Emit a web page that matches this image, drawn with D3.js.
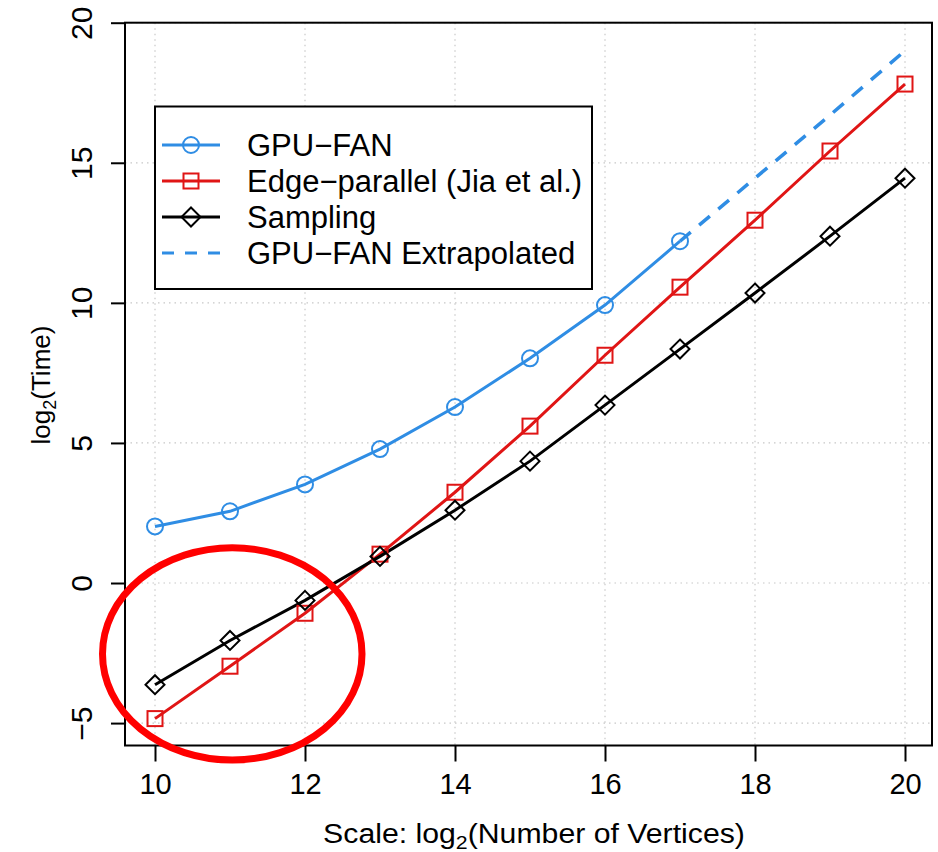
<!DOCTYPE html>
<html>
<head>
<meta charset="utf-8">
<script src="https://cdn.jsdelivr.net/npm/d3@7"></script>
<style>
  html, body { margin: 0; padding: 0; background: #fff; }
  svg { display: block; font-family: "Liberation Sans", Arial, Helvetica, sans-serif; }
</style>
</head>
<body>
<svg id="chart" width="938" height="852"></svg>
<script>
// ---- data ----
const scaleX = [10, 11, 12, 13, 14, 15, 16, 17, 18, 19, 20];
const gpuFanX = [10, 11, 12, 13, 14, 15, 16, 17];
const gpuFan = [2.02, 2.56, 3.52, 4.78, 6.28, 8.02, 9.92, 12.2];
const extrapX = [17, 18, 19, 20];
const gpuFanExtrap = [12.2, 14.45, 16.7, 19.0];
const edgeParallel = [-4.84, -2.97, -1.08, 1.03, 3.24, 5.6, 8.13, 10.56, 12.95, 15.42, 17.81];
const sampling = [-3.63, -2.05, -0.62, 0.95, 2.6, 4.35, 6.35, 8.35, 10.35, 12.38, 14.45];
const xTicks = [10, 12, 14, 16, 18, 20];
const yTicks = [-5, 0, 5, 10, 15, 20];
const legendLabels = ["GPU\u2212FAN", "Edge\u2212parallel (Jia et al.)", "Sampling", "GPU\u2212FAN Extrapolated"];
// highlighted region (ellipse) in data units: centre x, centre y, radius x, radius y
const highlight = [11.03, -2.53, 1.73, 3.79];

const colBlue = "#2f8de4", colRed = "#e01515", colBlack = "#000";

const svg = d3.select("#chart");
const L = 125, R = 935, T = 22.7, B = 745.5;
const x = d3.scaleLinear().domain([9.6, 20.4]).range([L, R]);
const y = d3.scaleLinear().domain([-5.8, 20]).range([B, T]);

// grid
const grid = svg.append("g").attr("stroke", "#c8c8c8").attr("stroke-width", 1.2).attr("stroke-dasharray", "1.5,4");
grid.selectAll("line.gx").data(xTicks).join("line")
  .attr("x1", d => x(d)).attr("x2", d => x(d)).attr("y1", T).attr("y2", B);
grid.selectAll("line.gy").data(yTicks).join("line")
  .attr("y1", d => y(d)).attr("y2", d => y(d)).attr("x1", L).attr("x2", R - 3);

// box
svg.append("rect").attr("x", L).attr("y", T).attr("width", 932 - L).attr("height", B - T)
  .attr("fill", "none").attr("stroke", "#000").attr("stroke-width", 2);

// x axis
const xAxis = d3.axisBottom(x).tickValues(xTicks).tickSize(16).tickPadding(12).tickFormat(d3.format("d"));
const gx = svg.append("g").attr("transform", `translate(0,${B})`).call(xAxis);
gx.select(".domain").remove();
gx.selectAll(".tick line").attr("stroke", "#000").attr("stroke-width", 2);
gx.selectAll(".tick text").attr("font-size", 29).attr("fill", "#000").attr("font-family", "Liberation Sans, Arial, sans-serif");

// y axis (rotated labels like R)
const yAxis = d3.axisLeft(y).tickValues(yTicks).tickSize(14).tickFormat(d => d < 0 ? "\u2212" + Math.abs(d) : d);
const gy = svg.append("g").attr("transform", `translate(${L},0)`).call(yAxis);
gy.select(".domain").remove();
gy.selectAll(".tick line").attr("stroke", "#000").attr("stroke-width", 2);
gy.selectAll(".tick text")
  .attr("font-size", 30).attr("fill", "#000").attr("font-family", "Liberation Sans, Arial, sans-serif")
  .attr("x", null).attr("dy", null)
  .attr("text-anchor", "middle")
  .attr("transform", "translate(-33,0) rotate(-90)");

// axis titles
const xt = svg.append("text").attr("transform", "translate(534,843) scale(1.12,1)")
  .attr("text-anchor", "middle").attr("font-size", 27);
xt.append("tspan").text("Scale: log");
xt.append("tspan").text("2").attr("font-size", 19).attr("dy", 6);
xt.append("tspan").text("(Number of Vertices)").attr("dy", -6);

const yt = svg.append("text").attr("transform", `translate(50,385) rotate(-90)`)
  .attr("text-anchor", "middle").attr("font-size", 26);
yt.append("tspan").text("log");
yt.append("tspan").text("2").attr("font-size", 18).attr("dy", 6);
yt.append("tspan").text("(Time)").attr("dy", -6);

// line generator
const line = d3.line().x(d => x(d[0])).y(d => y(d[1]));

const plot = svg.append("g");
// extrapolated dashed
plot.append("path").datum(extrapX.map((v, i) => [v, gpuFanExtrap[i]]))
  .attr("d", line).attr("fill", "none").attr("stroke", colBlue).attr("stroke-width", 3.5).attr("stroke-dasharray", "14,11");

const series = [
  { xs: gpuFanX, ys: gpuFan, color: colBlue, shape: "circle" },
  { xs: scaleX, ys: edgeParallel, color: colRed, shape: "square" },
  { xs: scaleX, ys: sampling, color: colBlack, shape: "diamond" }
];

function marker(g, shape, color, cx, cy) {
  if (shape === "circle") {
    g.append("circle").attr("cx", cx).attr("cy", cy).attr("r", 8)
      .attr("fill", "none").attr("stroke", color).attr("stroke-width", 2);
  } else if (shape === "square") {
    g.append("rect").attr("x", cx - 7.5).attr("y", cy - 7.5).attr("width", 15).attr("height", 15)
      .attr("fill", "none").attr("stroke", color).attr("stroke-width", 2);
  } else {
    const r = 9.5;
    g.append("path").attr("d", `M${cx},${cy - r}L${cx + r},${cy}L${cx},${cy + r}L${cx - r},${cy}Z`)
      .attr("fill", "none").attr("stroke", color).attr("stroke-width", 2);
  }
}

series.forEach(s => {
  const pts = s.xs.map((v, i) => [v, s.ys[i]]);
  plot.append("path").datum(pts).attr("d", line).attr("fill", "none")
    .attr("stroke", s.color).attr("stroke-width", 3);
});
series.forEach(s => {
  const mg = plot.append("g");
  s.xs.forEach((v, i) => marker(mg, s.shape, s.color, x(v), y(s.ys[i])));
});

// legend
const lg = svg.append("g");
lg.append("rect").attr("x", 155).attr("y", 106.5).attr("width", 437).attr("height", 182.5)
  .attr("fill", "#fff").attr("stroke", "#000").attr("stroke-width", 2);
const rowsY = [145, 181, 217, 253];
const legendStyles = [
  { color: colBlue, shape: "circle", dash: null },
  { color: colRed, shape: "square", dash: null },
  { color: colBlack, shape: "diamond", dash: null },
  { color: colBlue, shape: null, dash: "12,11" }
];
legendLabels.forEach((lab, i) => {
  const st = legendStyles[i];
  const ry = rowsY[i];
  const ln = lg.append("line").attr("x1", 162).attr("x2", 220).attr("y1", ry).attr("y2", ry)
    .attr("stroke", st.color).attr("stroke-width", 3);
  if (st.dash) ln.attr("stroke-dasharray", st.dash);
  if (st.shape) marker(lg, st.shape, st.color, 191, ry);
  lg.append("text").attr("x", 247).attr("y", ry + 11).attr("font-size", 31).text(lab);
});

// highlight ellipse annotation
svg.append("ellipse")
  .attr("cx", x(highlight[0])).attr("cy", y(highlight[1]))
  .attr("rx", x(highlight[0] + highlight[2]) - x(highlight[0]))
  .attr("ry", y(highlight[1] - highlight[3]) - y(highlight[1]))
  .attr("fill", "none").attr("stroke", "#ff0000").attr("stroke-width", 7);
</script>
</body>
</html>
